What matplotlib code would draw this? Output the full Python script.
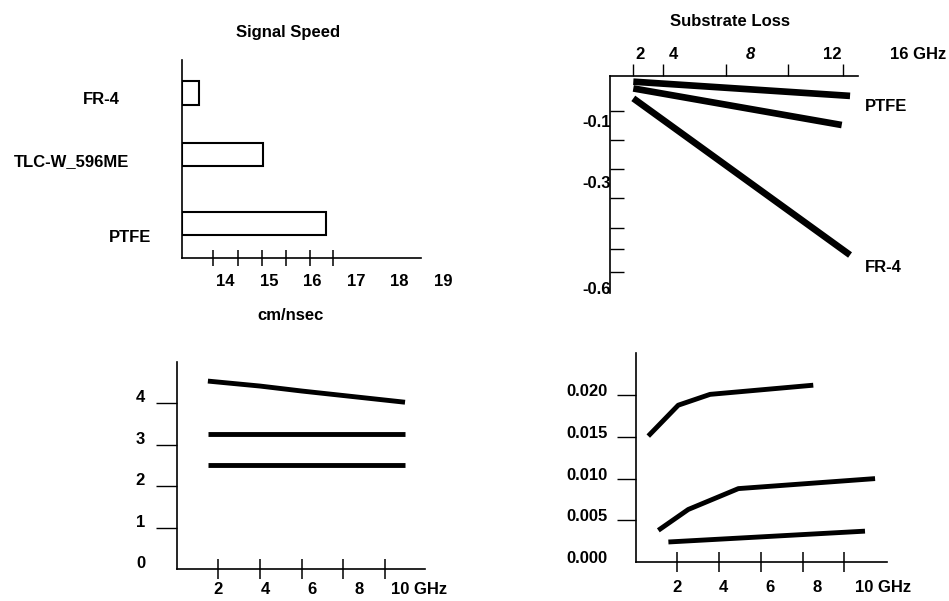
import matplotlib
matplotlib.use('Agg')
import matplotlib.pyplot as plt

plt.rcParams['font.family'] = ['Liberation Sans', 'DejaVu Sans']
plt.rcParams['font.weight'] = 'bold'
plt.rcParams['font.size'] = 12

# ---------------- data ----------------
# Signal speed (cm/nsec)
speed_materials = ['FR-4', 'TLC-W_596ME', 'PTFE']
speed_values = [13.39, 14.86, 16.31]
speed_tick_values = [14, 15, 16, 17, 18, 19]

# Substrate loss vs frequency (GHz)
loss_ptfe_f = [1.42, 13.14]
loss_ptfe_v = [-0.016, -0.056]
loss_mid_f = [1.42, 12.69]
loss_mid_v = [-0.035, -0.138]
loss_fr4_f = [1.42, 13.14]
loss_fr4_v = [-0.063, -0.504]
loss_x_labels = ['2', '4', '8', '12', '16 GHz']
loss_y_labels = ['-0.1', '-0.3', '-0.6']
loss_y_values = [-0.1, -0.3, -0.6]

# Dielectric constant vs frequency
dk_top_f = [1.57, 3.79, 5.57, 9.96]
dk_top_v = [4.53, 4.41, 4.29, 4.02]
dk_mid_f = [1.59, 9.96]
dk_mid_v = [3.25, 3.25]
dk_low_f = [1.59, 9.96]
dk_low_v = [2.51, 2.51]
dk_y_values = [0, 1, 2, 3, 4]
dk_x_values = [2, 4, 6, 8]

# Dissipation factor vs frequency
df_top_f = [0.78, 2.06, 3.42, 7.83]
df_top_v = [0.0151, 0.0188, 0.0201, 0.0212]
df_mid_f = [1.21, 2.49, 4.63, 10.47]
df_mid_v = [0.0038, 0.0063, 0.0088, 0.0100]
df_low_f = [1.64, 10.04]
df_low_v = [0.0024, 0.0037]
df_y_labels = ['0.000', '0.005', '0.010', '0.015', '0.020']
df_y_values = [0.0, 0.005, 0.010, 0.015, 0.020]
df_x_values = [2, 4, 6, 8]

# ---------------- figure ----------------
W, H = 949, 601
fig = plt.figure(figsize=(W / 100, H / 100), dpi=100)


def axes_px(left, top, right, bottom):
    return fig.add_axes([left / W, 1 - bottom / H, (right - left) / W, (bottom - top) / H])


SPW = 1.2
FS = 12

# ---- Panel 1: Signal Speed ----
ax1 = axes_px(182, 60, 421, 258)
bar_pos = [2.008, 1.058, 0.0]
bar_h = [0.37, 0.35, 0.354]
ax1.barh(bar_pos, [v - 13 for v in speed_values], left=13, height=bar_h,
         color='white', edgecolor='black', linewidth=1.5)
ax1.set_xlim(13, 18.49)
ax1.set_ylim(-0.531, 2.515)
for s in ['top', 'right']:
    ax1.spines[s].set_visible(False)
for s in ['left', 'bottom']:
    ax1.spines[s].set_linewidth(SPW)
ax1.set_yticks([])
ax1.set_xticks([13.71, 14.29, 14.84, 15.39, 15.94, 16.47])
ax1.set_xticklabels([])
ax1.tick_params(axis='x', direction='inout', length=11, width=1.1)
for v in speed_tick_values:
    ax1.text(v, -0.12, str(v), transform=ax1.get_xaxis_transform(),
             ha='center', va='center', fontsize=FS, clip_on=False)
lab_x = [-0.259, -0.222, -0.130]
lab_y = [1.90, 0.96, -0.21]
for name, lx, ly in zip(speed_materials, lab_x, lab_y):
    ax1.text(lx, ly, name, transform=ax1.get_yaxis_transform(),
             ha='right', va='center', fontsize=FS, clip_on=False)
fig.text(288 / W, 1 - 33 / H, 'Signal Speed', ha='center', va='center', fontsize=FS)
fig.text(291 / W, 1 - 315 / H, 'cm/nsec', ha='center', va='center', fontsize=FS)

# ---- Panel 2: Substrate Loss ----
ax2 = axes_px(610, 76, 858, 293)
LW2 = 4.8
for f, v in [(loss_ptfe_f, loss_ptfe_v), (loss_mid_f, loss_mid_v), (loss_fr4_f, loss_fr4_v)]:
    ax2.plot(f, v, color='black', linewidth=LW2, solid_capstyle='butt')
ax2.set_xlim(0.16, 13.57)
ax2.set_ylim(-0.611, 0)
for s in ['bottom', 'right']:
    ax2.spines[s].set_visible(False)
for s in ['left', 'top']:
    ax2.spines[s].set_linewidth(SPW)
ax2.xaxis.tick_top()
ax2.set_xticks([1.39, 3.01, 6.43, 9.80, 12.77])
ax2.set_xticklabels([])
ax2.tick_params(axis='x', direction='out', length=9, width=1.0)
ax2.set_yticks([-0.0986, -0.180, -0.262, -0.344, -0.428, -0.487, -0.552])
ax2.set_yticklabels([])
ax2.tick_params(axis='y', direction='in', length=10, width=1.0)
x2_lab_pos = [1.78, 3.57, 7.73, 12.2]
for lbl, p in zip(loss_x_labels[:-1], x2_lab_pos):
    ax2.text(p, 1.097, lbl, transform=ax2.get_xaxis_transform(),
             ha='center', va='center', fontsize=FS, style='italic' if lbl == '8' else 'normal',
             clip_on=False)
ax2.text(15.3, 1.097, loss_x_labels[-1], transform=ax2.get_xaxis_transform(),
         ha='left', va='center', fontsize=FS, clip_on=False)
y2_lab_pos = [-0.130, -0.304, -0.600]
for lbl, p in zip(loss_y_labels, y2_lab_pos):
    ax2.text(0.004, p, lbl, transform=ax2.get_yaxis_transform(),
             ha='right', va='center', fontsize=FS, clip_on=False)
ax2.text(13.95, -0.087, 'PTFE', ha='left', va='center', fontsize=FS, clip_on=False)
ax2.text(13.95, -0.538, 'FR-4', ha='left', va='center', fontsize=FS, clip_on=False)
fig.text(730 / W, 1 - 21 / H, 'Substrate Loss', ha='center', va='center', fontsize=FS)

# ---- Panel 3: dielectric constant ----
ax3 = axes_px(177, 362, 425, 569)
LW3 = 3.5
for f, v in [(dk_top_f, dk_top_v), (dk_mid_f, dk_mid_v), (dk_low_f, dk_low_v)]:
    ax3.plot(f, v, color='black', linewidth=LW3, solid_capstyle='butt')
ax3.set_xlim(0.255, 10.81)
ax3.set_ylim(0, 4.99)
for s in ['top', 'right']:
    ax3.spines[s].set_visible(False)
for s in ['left', 'bottom']:
    ax3.spines[s].set_linewidth(SPW)
ax3.set_yticks([1, 2, 3, 4])
ax3.set_yticklabels([])
ax3.tick_params(axis='y', direction='out', length=15, width=1.0)
ax3.set_xticks([2.0, 3.79, 5.57, 7.32, 9.11])
ax3.set_xticklabels([])
ax3.tick_params(axis='x', direction='inout', length=14, width=1.1)
for v in dk_y_values:
    ax3.text(-0.129, v + 0.13, str(v), transform=ax3.get_yaxis_transform(),
             ha='right', va='center', fontsize=FS, clip_on=False)
for v in dk_x_values:
    ax3.text(v, -0.097, str(v), transform=ax3.get_xaxis_transform(),
             ha='center', va='center', fontsize=FS, clip_on=False)
ax3.text(9.35, -0.097, '10 GHz', transform=ax3.get_xaxis_transform(),
         ha='left', va='center', fontsize=FS, clip_on=False)

# ---- Panel 4: dissipation factor ----
ax4 = axes_px(636, 353, 887, 562)
LW4 = 3.5
for f, v in [(df_top_f, df_top_v), (df_mid_f, df_mid_v), (df_low_f, df_low_v)]:
    ax4.plot(f, v, color='black', linewidth=LW4, solid_capstyle='butt')
ax4.set_xlim(0.256, 10.98)
ax4.set_ylim(0, 0.02506)
for s in ['top', 'right']:
    ax4.spines[s].set_visible(False)
for s in ['left', 'bottom']:
    ax4.spines[s].set_linewidth(SPW)
ax4.set_yticks([0.005, 0.010, 0.015, 0.020])
ax4.set_yticklabels([])
ax4.tick_params(axis='y', direction='out', length=14, width=1.0)
ax4.set_xticks([2.01, 3.80, 5.60, 7.39, 9.15])
ax4.set_xticklabels([])
ax4.tick_params(axis='x', direction='inout', length=14, width=1.1)
for lbl, v in zip(df_y_labels, df_y_values):
    ax4.text(-0.112, v + 0.0004, lbl, transform=ax4.get_yaxis_transform(),
             ha='right', va='center', fontsize=FS, clip_on=False)
for v in df_x_values:
    ax4.text(v, -0.120, str(v), transform=ax4.get_xaxis_transform(),
             ha='center', va='center', fontsize=FS, clip_on=False)
ax4.text(9.62, -0.120, '10 GHz', transform=ax4.get_xaxis_transform(),
         ha='left', va='center', fontsize=FS, clip_on=False)

fig.savefig('out.png', dpi=100)
